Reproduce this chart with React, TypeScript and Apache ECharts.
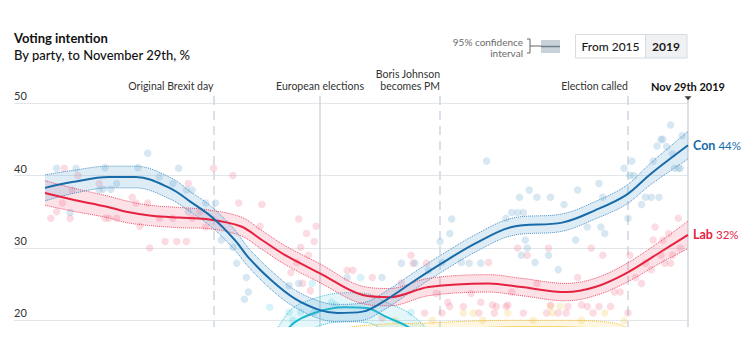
import React, { useEffect, useRef } from "react";
import * as echarts from "echarts";

// ---------- data ----------
const conDates = ["2019-01-01","2019-01-15","2019-02-03","2019-02-17","2019-03-07","2019-03-17","2019-03-28","2019-04-09","2019-04-16","2019-04-28","2019-05-10","2019-05-23","2019-06-01","2019-06-14","2019-06-26","2019-07-11","2019-07-25","2019-08-11","2019-08-30","2019-09-25","2019-10-12","2019-10-28","2019-11-10","2019-11-29"];
const conValues = [38.3,39.1,39.8,39.8,38.2,36.4,34.3,31.1,28.7,25.5,23.0,21.4,21.0,21.2,22.8,25.5,27.9,30.6,32.9,33.5,35.2,37.3,40.3,44.2];
const conCI = [1.8,1.6,1.5,1.5,1.5,1.4,1.4,1.4,1.3,1.3,1.2,1.2,1.2,1.2,1.2,1.2,1.2,1.2,1.2,1.2,1.2,1.3,1.5,1.9];

const labDates = ["2019-01-01","2019-01-15","2019-02-02","2019-02-12","2019-02-24","2019-03-11","2019-03-25","2019-04-12","2019-04-23","2019-05-05","2019-05-23","2019-06-14","2019-06-28","2019-07-18","2019-08-18","2019-09-04","2019-09-27","2019-10-12","2019-10-28","2019-11-14","2019-11-29"];
const labValues = [37.6,36.7,35.7,35.0,34.5,34.2,34.0,33.0,31.1,29.0,26.5,23.5,23.2,24.6,25.1,24.6,23.9,24.6,26.5,29.3,31.8];
const labCI = [1.7,1.6,1.5,1.5,1.4,1.4,1.3,1.3,1.3,1.3,1.3,1.2,1.2,1.2,1.2,1.2,1.2,1.2,1.3,1.5,1.9];

const bxpDates = ["2019-04-20","2019-05-07","2019-05-20","2019-06-05","2019-06-16","2019-06-26","2019-07-08","2019-07-25","2019-08-20","2019-09-20","2019-10-20","2019-11-15","2019-11-29"];
const bxpValues = [11,19.0,21.0,21.8,21.7,20.5,19.0,15.5,13,12,11,7,4];
const bxpCI = [2.5,2.2,2.0,2.0,2.0,2.0,2.0,1.8,1.6,1.5,1.5,1.6,2.0];

const ldDates = ["2019-01-01","2019-03-01","2019-04-15","2019-05-10","2019-05-31","2019-06-20","2019-07-15","2019-08-10","2019-09-01","2019-09-25","2019-10-20","2019-11-05","2019-11-29"];
const ldValues = [10,10,10.5,14,17.5,18.4,18.6,18.9,19.0,19.0,18.7,17,14];
const ldCI = [1,1,1,1,1,1,1,1,1,1,1,1.1,1.4];

const conPollDates = ["2019-01-07","2019-01-14","2019-01-17","2019-01-29","2019-01-31","2019-02-01","2019-02-04","2019-02-07","2019-02-18","2019-02-23","2019-03-01","2019-03-08","2019-03-11","2019-03-15","2019-03-16","2019-03-18","2019-03-25","2019-03-30","2019-04-02","2019-04-08","2019-04-10","2019-04-14","2019-04-15","2019-04-16","2019-05-07","2019-05-12","2019-06-06","2019-06-24","2019-07-04","2019-07-11","2019-07-18","2019-07-25","2019-07-24","2019-07-29","2019-07-30","2019-08-04","2019-08-08","2019-08-14","2019-08-17","2019-08-27","2019-08-30","2019-09-02","2019-09-03","2019-09-05","2019-09-06","2019-09-07","2019-09-04","2019-09-08","2019-09-11","2019-09-12","2019-09-18","2019-09-19","2019-09-23","2019-09-26","2019-10-02","2019-10-03","2019-10-08","2019-10-14","2019-10-16","2019-10-15","2019-10-17","2019-10-27","2019-10-29","2019-10-30","2019-10-31","2019-11-01","2019-11-05","2019-11-07","2019-11-10","2019-11-11","2019-11-14","2019-11-13","2019-11-15","2019-11-16","2019-11-18","2019-11-20","2019-11-21","2019-11-22","2019-11-24","2019-11-25","2019-11-26"];
const conPollValues = [41.0,34.9,41.0,38.0,38.1,41.1,38.1,38.9,41.1,43.1,39.8,38.9,41.0,38.0,35.0,38.0,36.2,36.2,31.1,30.1,27.9,22.9,25.9,23.9,24.8,25.1,25.9,25.9,27.9,27.9,26.9,28.0,30.9,32.0,34.0,28.0,27.9,27.9,42.0,34.1,34.9,34.9,37.0,34.9,31.1,30.0,29.0,38.0,28.0,37.0,29.0,37.0,27.0,36.0,31.1,38.0,32.9,38.9,37.0,32.9,32.0,41.0,34.1,40.0,42.0,40.0,36.0,37.0,37.0,42.0,37.0,44.1,45.0,45.0,44.0,47.0,43.0,41.0,41.0,41.0,45.5];

const labPollDates = ["2019-01-04","2019-01-07","2019-01-11","2019-01-10","2019-01-14","2019-01-15","2019-01-18","2019-01-29","2019-02-01","2019-02-03","2019-02-07","2019-02-15","2019-02-17","2019-02-19","2019-02-23","2019-02-24","2019-03-01","2019-03-04","2019-03-08","2019-03-10","2019-03-15","2019-03-16","2019-03-18","2019-03-22","2019-03-25","2019-03-29","2019-04-08","2019-04-11","2019-04-23","2019-04-22","2019-05-12","2019-05-21","2019-05-16","2019-05-20","2019-05-13","2019-05-17","2019-05-11","2019-05-08","2019-05-14","2019-05-18","2019-06-06","2019-06-09","2019-06-19","2019-06-24","2019-07-04","2019-07-09","2019-07-10","2019-07-16","2019-07-17","2019-07-22","2019-07-25","2019-07-28","2019-07-29","2019-08-05","2019-08-09","2019-08-13","2019-08-14","2019-08-18","2019-08-20","2019-08-21","2019-08-22","2019-08-27","2019-08-28","2019-08-30","2019-09-02","2019-09-05","2019-09-07","2019-09-12","2019-09-17","2019-09-18","2019-09-19","2019-09-23","2019-09-27","2019-09-28","2019-10-03","2019-10-05","2019-10-08","2019-10-10","2019-10-11","2019-10-14","2019-10-16","2019-10-20","2019-10-22","2019-10-25","2019-10-29","2019-10-30","2019-11-02","2019-11-05","2019-11-07","2019-11-10","2019-11-11","2019-11-12","2019-11-15","2019-11-16","2019-11-17","2019-11-19","2019-11-20","2019-11-21","2019-11-24","2019-11-25"];
const labPollValues = [34.1,35.0,41.0,36.2,34.1,38.0,40.0,38.9,34.1,34.1,34.1,37.0,36.2,33.0,36.2,30.0,34.1,30.9,34.1,30.9,30.9,38.9,34.1,35.0,32.9,41.0,40.0,36.2,36.0,33.0,34.0,33.0,32.0,30.9,30.1,29.0,28.0,26.6,25.1,24.1,26.9,26.9,25.9,20.3,25.2,29.0,27.9,21.0,27.9,23.7,21.0,22.5,21.9,21.9,23.7,21.0,22.5,28.0,22.1,21.0,21.9,21.9,22.1,23.9,30.0,21.0,29.0,25.1,21.0,30.0,22.1,21.0,21.0,21.9,25.9,22.1,21.9,30.0,21.0,21.9,29.0,21.9,23.9,23.9,21.0,29.0,25.9,25.1,27.9,27.0,31.1,32.9,29.0,31.1,27.9,32.0,27.9,29.0,34.1,30.0];

const bxpPollDates = ["2019-04-27","2019-05-07","2019-05-09","2019-05-13","2019-05-19","2019-05-20","2019-05-29","2019-05-31","2019-06-13","2019-07-09"];
const bxpPollValues = [21.8,21.1,20.0,21.1,25.1,21.1,22.5,22.1,25.9,21.1];

const ldPollDates = ["2019-07-01","2019-07-20","2019-08-05","2019-08-10","2019-08-15","2019-08-28","2019-09-10","2019-09-19","2019-09-20","2019-09-24","2019-10-05","2019-10-17","2019-10-27"];
const ldPollValues = [20.0,20.0,21.0,21.0,20.0,21.0,20.0,21.9,21.0,21.9,20.0,21.0,19.9];

const eventDates = ["2019-03-29","2019-05-23","2019-07-24","2019-10-29","2019-11-29"];
const eventLabels = ["Original Brexit day","European elections","Boris Johnson\nbecomes PM","Election called","Nov 29th 2019"];
const eventDashed = [true,false,true,true,false];
const eventAlign = ["right","center","right","right","center"];

const yTicks = [20,30,40,50];
const axisStart = "2018-12-16";
const axisEnd = "2019-11-29";

// ---------- helpers ----------
const toTs = (d: string) => Date.UTC(+d.slice(0, 4), +d.slice(5, 7) - 1, +d.slice(8, 10));
const pairs = (dates: string[], vals: number[]) => dates.map((d, i) => [toTs(d), vals[i]]);

const FONT = "Lato, 'Open Sans', sans-serif";

function partySeries(key: string, dates: string[], vals: number[], ci: number[], line: string, edge: string, fill: string, z: number, endName?: string) {
  const lower = dates.map((d, i) => [toTs(d), vals[i] - ci[i]]);
  const width = dates.map((d, i) => [toTs(d), 2 * ci[i]]);
  const smooth = 0.35;
  const out: any[] = [
    { type: "line", data: lower, stack: key, smooth, showSymbol: false, symbol: "none", silent: true, z,
      lineStyle: { color: edge, width: 1, type: "dotted" } },
    { type: "line", data: width, stack: key, smooth, showSymbol: false, symbol: "none", silent: true, z,
      lineStyle: { color: edge, width: 1, type: "dotted" }, areaStyle: { color: fill, opacity: 1 } },
  ];
  const main: any = { type: "line", data: pairs(dates, vals), smooth, showSymbol: false, symbol: "none", silent: true, z: z + 1,
    lineStyle: { color: line, width: 2 } };
  if (endName) {
    const last = Math.round(vals[vals.length - 1]);
    main.endLabel = {
      show: true, distance: 5,
      formatter: () => `{n|${endName}} {v|${last}%}`,
      rich: {
        n: { fontFamily: FONT, fontWeight: "bold", fontSize: 12.5, color: line },
        v: { fontFamily: FONT, fontSize: 11.5, color: line },
      },
    };
  }
  out.push(main);
  return out;
}

const scatter = (dates: string[], vals: number[], color: string, extra: any = {}) => ({
  type: "scatter", data: pairs(dates, vals), symbolSize: 7.5, silent: true, z: 1,
  itemStyle: { color, borderWidth: 0 }, ...extra,
});

export default function App() {
  const ref = useRef<HTMLDivElement>(null);
  useEffect(() => {
    if (!ref.current) return;
    const chart = echarts.init(ref.current, undefined, { renderer: "svg" });

    const markData = eventDates.map((d, i) => ({
      xAxis: toTs(d),
      lineStyle: {
        color: "#cdd6df",
        width: 1.5,
        type: eventDashed[i] ? [9, 6] : "solid",
      },
      label: {
        show: true,
        position: "end",
        distance: 4,
        align: eventAlign[i],
        formatter: eventLabels[i],
        fontFamily: FONT,
        fontSize: i === 4 ? 11 : 10.5,
        fontWeight: i === 4 ? "bold" : "normal",
        color: i === 4 ? "#111" : "#333",
        lineHeight: 12,
      },
    }));

    const option: any = {
      animation: false,
      textStyle: { fontFamily: FONT },
      title: {
        text: "Voting intention",
        subtext: "By party, to November 29th, %",
        left: 14,
        top: 30,
        itemGap: 1,
        padding: 0,
        textStyle: { fontFamily: FONT, fontSize: 13, fontWeight: "bold", color: "#121212", lineHeight: 16 },
        subtextStyle: { fontFamily: FONT, fontSize: 13, fontWeight: 500, color: "#121212", lineHeight: 16 },
      },
      grid: { left: 14, right: 66, top: 96, bottom: 15, outerBoundsMode: "none" },
      xAxis: {
        type: "time",
        min: toTs(axisStart),
        max: toTs(axisEnd),
        axisLine: { show: false },
        axisTick: { show: false },
        axisLabel: { show: false },
        splitLine: { show: false },
      },
      yAxis: {
        type: "value",
        min: 0,
        max: 51,
        interval: 10,
        axisLine: { show: false },
        axisTick: { show: false },
        splitLine: { show: true, showMaxLine: false, lineStyle: { color: "#e3e6e9", width: 1 } },
        axisLabel: {
          inside: true,
          margin: 0,
          align: "left",
          verticalAlign: "bottom",
          padding: [0, 0, 2, 0],
          fontSize: 11,
          color: "#333",
          fontFamily: FONT,
          showMaxLabel: false,
          formatter: (v: number) => (yTicks.includes(v) ? String(v) : ""),
        },
      },
      graphic: [
        {
          type: "text", x: 523, y: 36,
          style: { text: "95% confidence\ninterval", align: "right", verticalAlign: "top", fill: "#6b6b6b", fontSize: 10, lineHeight: 11, fontFamily: FONT },
        },
        { type: "polyline", shape: { points: [[527, 39], [530, 39], [530, 53], [527, 53]] }, style: { stroke: "#666", lineWidth: 1, fill: null } },
        { type: "line", shape: { x1: 530, y1: 46, x2: 541, y2: 46 }, style: { stroke: "#666", lineWidth: 1 } },
        { type: "rect", shape: { x: 541, y: 40, width: 19, height: 13 }, style: { fill: "#c9d1d9" } },
        { type: "line", shape: { x1: 541, y1: 46.5, x2: 560, y2: 46.5 }, style: { stroke: "#6e7f8e", lineWidth: 1.5 } },
        { type: "rect", shape: { x: 575.5, y: 34.5, width: 70, height: 23.5 }, style: { fill: "#fff", stroke: "#d5dce2", lineWidth: 1 } },
        { type: "rect", shape: { x: 645.5, y: 34.5, width: 41.5, height: 23.5 }, style: { fill: "#eff1f3", stroke: "#d5dce2", lineWidth: 1 } },
        { type: "text", x: 610.5, y: 46.5, style: { text: "From 2015", align: "center", verticalAlign: "middle", fill: "#1a1a1a", fontSize: 12, fontWeight: 500, fontFamily: FONT } },
        { type: "text", x: 666, y: 46.5, style: { text: "2019", align: "center", verticalAlign: "middle", fill: "#1a1a1a", fontSize: 12, fontWeight: "bold", fontFamily: FONT } },
      ],
      series: [
        scatter(ldPollDates, ldPollValues, "rgba(245,200,80,0.32)", {
          markLine: { silent: true, symbol: ["none", "none"], data: markData, z: 0 },
        }),
        scatter(bxpPollDates, bxpPollValues, "rgba(80,205,225,0.3)"),
        scatter(labPollDates, labPollValues, "rgba(240,100,130,0.28)"),
        scatter(conPollDates, conPollValues, "rgba(120,175,210,0.36)"),
        ...partySeries("ld", ldDates, ldValues, ldCI, "#f2b600", "#f5c030", "rgba(250,200,60,0.16)", 2),
        ...partySeries("bxp", bxpDates, bxpValues, bxpCI, "#17b7cd", "#3cc6d8", "rgba(60,200,220,0.14)", 2),
        ...partySeries("lab", labDates, labValues, labCI, "#e5223f", "#ee4d68", "rgba(240,80,110,0.17)", 4, "Lab"),
        ...partySeries("con", conDates, conValues, conCI, "#176ba9", "#4a90c4", "rgba(90,160,210,0.2)", 4, "Con"),
        {
          type: "scatter", data: [[toTs(axisEnd), 50.7]], symbol: "triangle", symbolRotate: 180,
          symbolSize: [7, 4], clip: false, silent: true, z: 6, itemStyle: { color: "#111" },
        },
      ],
    };
    chart.setOption(option);
    return () => chart.dispose();
  }, []);

  return (
    <div style={{ position: "fixed", left: 0, top: 0, width: 754, height: 327, overflow: "hidden", background: "#fff" }}>
      <div ref={ref} style={{ width: 754, height: 480 }} />
    </div>
  );
}
